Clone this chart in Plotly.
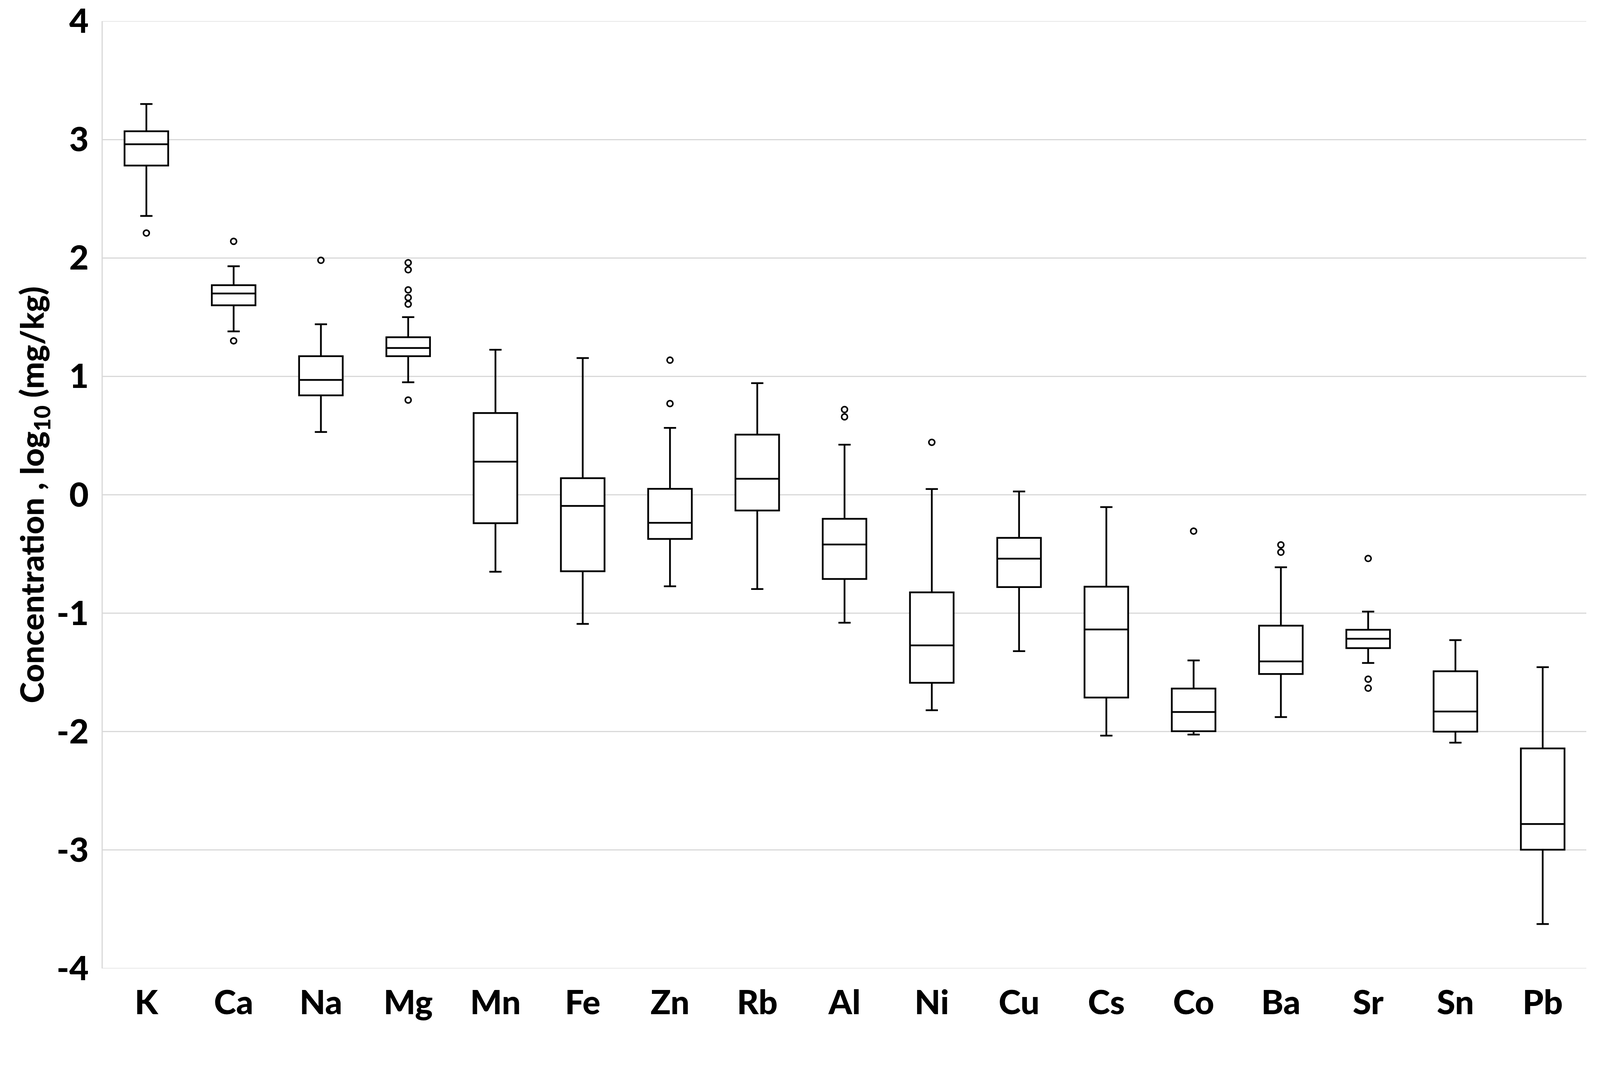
import plotly.graph_objects as go

elements = ["K", "Ca", "Na", "Mg", "Mn", "Fe", "Zn", "Rb", "Al", "Ni", "Cu", "Cs", "Co", "Ba", "Sr", "Sn", "Pb"]
lower_whisker = [2.355, 1.38, 0.53, 0.95, -0.65, -1.09, -0.773, -0.796, -1.08, -1.819, -1.32, -2.034, -2.025, -1.877, -1.42, -2.093, -3.625]
q1 = [2.78, 1.60, 0.84, 1.17, -0.24, -0.646, -0.373, -0.133, -0.711, -1.588, -0.779, -1.712, -1.997, -1.513, -1.295, -2.0, -2.997]
median = [2.96, 1.70, 0.97, 1.24, 0.28, -0.094, -0.237, 0.135, -0.42, -1.272, -0.539, -1.137, -1.834, -1.407, -1.216, -1.83, -2.78]
q3 = [3.07, 1.77, 1.17, 1.33, 0.69, 0.14, 0.05, 0.508, -0.203, -0.824, -0.364, -0.776, -1.636, -1.105, -1.14, -1.49, -2.142]
upper_whisker = [3.30, 1.93, 1.44, 1.50, 1.225, 1.155, 0.565, 0.943, 0.423, 0.049, 0.028, -0.104, -1.399, -0.612, -0.986, -1.227, -1.456]

outlier_elements = ["K", "Ca", "Ca", "Na", "Mg", "Mg", "Mg", "Mg", "Mg", "Mg", "Zn", "Zn",
                    "Al", "Al", "Ni", "Co", "Ba", "Ba", "Sr", "Sr", "Sr"]
outlier_values = [2.21, 2.14, 1.30, 1.98, 1.96, 1.90, 1.73, 1.665, 1.61, 0.80, 1.137, 0.77,
                  0.72, 0.658, 0.443, -0.307, -0.423, -0.485, -0.538, -1.557, -1.633]

y_ticks = [4, 3, 2, 1, 0, -1, -2, -3, -4]

fig = go.Figure()
fig.add_trace(go.Box(
    x=elements, q1=q1, median=median, q3=q3,
    lowerfence=lower_whisker, upperfence=upper_whisker,
    boxpoints=False, width=0.5, whiskerwidth=0.28,
    fillcolor="white", line=dict(color="black", width=4.5),
    showlegend=False, hoverinfo="skip",
))
fig.add_trace(go.Scatter(
    x=outlier_elements, y=outlier_values, mode="markers",
    marker=dict(symbol="circle-open", size=15, color="black", line=dict(width=4, color="black")),
    showlegend=False, hoverinfo="skip",
))

font_family = "Lato"
tick_font = dict(size=86, family=font_family, weight=900, color="black")
fig.update_layout(
    width=4078, height=2618,
    margin=dict(l=255, r=25, t=46, b=131),
    paper_bgcolor="white", plot_bgcolor="white",
    font=dict(family=font_family, color="black"),
    xaxis=dict(
        type="category", categoryorder="array", categoryarray=elements,
        range=[-0.5, 16.5], showgrid=False, zeroline=False,
        showline=False, ticks="",
        tickfont=tick_font,
        ticklabelstandoff=30, ticklabeloverflow="allow",
    ),
    yaxis=dict(
        range=[-4, 4], tickvals=y_ticks, ticktext=[str(v) for v in y_ticks],
        showgrid=True, gridcolor="#d9d9d9", gridwidth=2.5,
        zeroline=False, showline=True, linecolor="#d9d9d9", linewidth=2.5,
        ticks="", ticklabelstandoff=16, ticklabeloverflow="allow",
        tickfont=tick_font,
        title=dict(text="Concentration , log<sub>10</sub> (mg/kg)",
                   font=dict(size=82, family=font_family, weight=900, color="black"),
                   standoff=6),
        automargin=False,
    ),
)
fig.add_shape(type="line", xref="paper", yref="y", x0=0, x1=1, y0=-4, y1=-4,
              line=dict(color="#d9d9d9", width=2.5), layer="below")
fig.add_shape(type="line", xref="paper", yref="y", x0=0, x1=1, y0=4, y1=4,
              line=dict(color="#d9d9d9", width=2.5), layer="below")

fig.write_html("out.html")
